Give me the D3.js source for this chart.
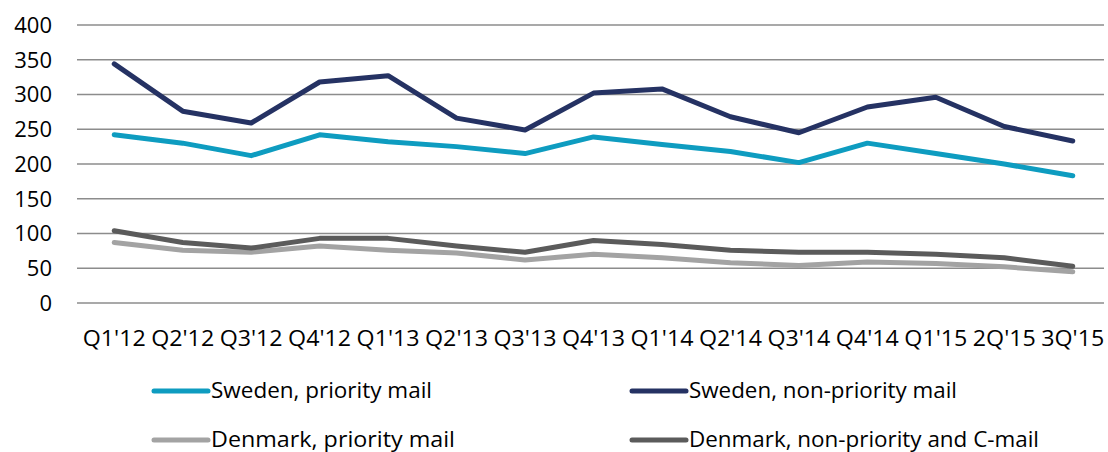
<!DOCTYPE html>
<html>
<head>
<meta charset="utf-8">
<script src="https://cdn.jsdelivr.net/npm/d3@7"></script>
<style>
  body { margin: 0; background: #fff; }
  svg { display: block; }
  text { font-family: "Open Sans", "Liberation Sans", sans-serif; fill: #000; }
</style>
</head>
<body>
<svg id="chart" width="1108" height="452"></svg>
<script>
// quarters on the x axis
var quarters = ["Q1'12", "Q2'12", "Q3'12", "Q4'12", "Q1'13", "Q2'13", "Q3'13", "Q4'13",
                "Q1'14", "Q2'14", "Q3'14", "Q4'14", "Q1'15", "2Q'15", "3Q'15"];

var yTicks = [0, 50, 100, 150, 200, 250, 300, 350, 400];

var seriesNames = ["Sweden, priority mail", "Sweden, non-priority mail",
                   "Denmark, priority mail", "Denmark, non-priority and C-mail"];

var swedenPriority    = [242, 230, 212, 242, 232, 225, 215, 239, 228, 218, 202, 230, 215, 200, 183];
var swedenNonPriority = [344, 276, 259, 318, 327, 266, 249, 302, 308, 268, 245, 282, 296, 254, 233];
var denmarkPriority   = [87, 76, 73, 82, 76, 72, 62, 70, 65, 58, 54, 59, 57, 52, 45];
var denmarkNonPriority = [104, 87, 79, 93, 93, 82, 73, 90, 84, 76, 73, 73, 70, 65, 53];

var colors = ["#0e9cc0", "#253263", "#a3a3a3", "#5b5b5b"];

var series = [swedenPriority, swedenNonPriority, denmarkPriority, denmarkNonPriority];

var svg = d3.select("#chart");

var x = d3.scalePoint().domain(quarters).range([80, 1107]).padding(0.5);
var y = d3.scaleLinear().domain([0, 400]).range([303, 25]);

// gridlines
svg.append("g")
    .selectAll("line")
    .data(yTicks).enter().append("line")
    .attr("x1", 77).attr("x2", 1104)
    .attr("y1", function(d) { return y(d); })
    .attr("y2", function(d) { return y(d); })
    .attr("stroke", "#8c8c8c")
    .attr("stroke-width", 1.6);

// y labels
svg.append("g")
    .selectAll("text")
    .data(yTicks).enter().append("text")
    .attr("x", 52)
    .attr("y", function(d) { return y(d); })
    .attr("dy", "0.36em")
    .attr("text-anchor", "end")
    .style("font-size", "22px")
    .text(function(d) { return d; });

// x labels
svg.append("g")
    .selectAll("text")
    .data(quarters).enter().append("text")
    .attr("x", function(d) { return x(d); })
    .attr("y", 346)
    .attr("text-anchor", "middle")
    .style("font-size", "22px")
    .attr("textLength", 63)
    .attr("lengthAdjust", "spacingAndGlyphs")
    .text(function(d) { return d; });

var line = d3.line()
    .x(function(d, i) { return x(quarters[i]); })
    .y(function(d) { return y(d); });

// draw in back-to-front order
[2, 3, 0, 1].forEach(function(k) {
  svg.append("path")
      .datum(series[k])
      .attr("d", line)
      .attr("fill", "none")
      .attr("stroke", colors[k])
      .attr("stroke-width", 5)
      .attr("stroke-linejoin", "round")
      .attr("stroke-linecap", "round");
});

// legend
var legendPos = [
  {x: 154, y: 391, w: 221},
  {x: 632, y: 391, w: 268},
  {x: 154, y: 440, w: 244},
  {x: 632, y: 440, w: 350}
];

var legend = svg.append("g")
    .selectAll("g")
    .data(seriesNames).enter().append("g")
    .attr("transform", function(d, i) { return "translate(" + legendPos[i].x + "," + legendPos[i].y + ")"; });

legend.append("line")
    .attr("x1", 0).attr("x2", 54)
    .attr("stroke", function(d, i) { return colors[i]; })
    .attr("stroke-width", 5)
    .attr("stroke-linecap", "round");

legend.append("text")
    .attr("x", 57)
    .attr("dy", "0.34em")
    .style("font-size", "21px")
    .attr("textLength", function(d, i) { return legendPos[i].w; })
    .attr("lengthAdjust", "spacingAndGlyphs")
    .text(function(d) { return d; });
</script>
</body>
</html>
